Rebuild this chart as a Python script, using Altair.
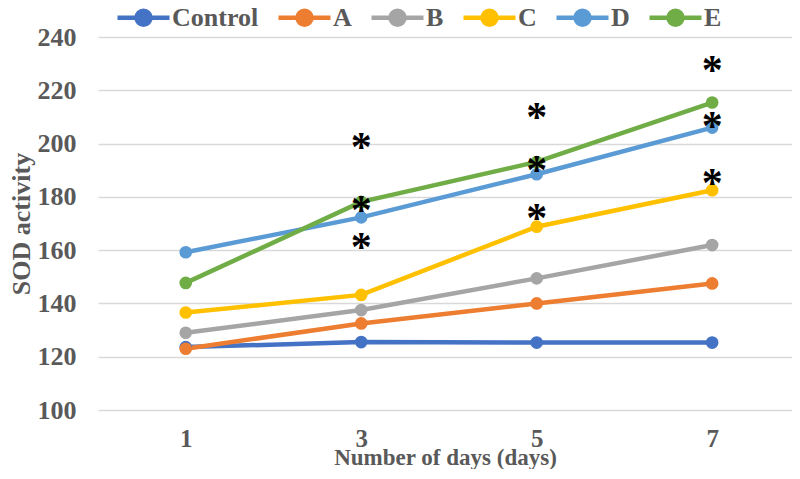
import altair as alt
import pandas as pd

days = [1, 3, 5, 7]
series = ["Control", "A", "B", "C", "D", "E"]
colors = ["#4472C4", "#ED7D31", "#A5A5A5", "#FFC000", "#5B9BD5", "#70AD47"]
control = [123.6, 125.5, 125.3, 125.3]
a_vals = [123.0, 132.5, 140.0, 147.5]
b_vals = [129.0, 137.5, 149.4, 161.9]
c_vals = [136.6, 143.2, 168.8, 182.5]
d_vals = [159.2, 172.3, 188.5, 206.0]
e_vals = [147.7, 178.1, 193.1, 215.4]

star_days = [3, 3, 3, 5, 5, 5, 7, 7, 7]
star_vals = [200.6, 176.9, 163.1, 211.9, 191.9, 173.8, 229.4, 208.5, 186.9]

rows = []
for name, vals in zip(series, [control, a_vals, b_vals, c_vals, d_vals, e_vals]):
    for d, v in zip(days, vals):
        rows.append({"day": d, "series": name, "value": v})
df = pd.DataFrame(rows)
stars = pd.DataFrame({"day": star_days, "value": star_vals})

FONT = "Liberation Serif"
GREY = "#595959"

xscale = alt.Scale(domain=[0, 7.91], nice=False, zero=False)
x = alt.X("day:Q", scale=xscale,
          axis=alt.Axis(title="Number of days (days)", values=days, format="d", labelAngle=0,
                        ticks=False, domain=False, grid=False, labelPadding=16, labelFontSize=25,
                        titleFontSize=23, titlePadding=-5))
y = alt.Y("value:Q", scale=alt.Scale(domain=[100, 240], nice=False),
          axis=alt.Axis(title="SOD activity", values=list(range(100, 241, 20)), ticks=False,
                        domain=False, gridColor="#D9D9D9", gridWidth=1.5, labelPadding=22,
                        titlePadding=3))

legend_path = "M-1,0H1M-0.27,0A0.27,0.27 0 1,0 0.27,0A0.27,0.27 0 1,0 -0.27,0Z"

lines = alt.Chart(df).mark_line(strokeWidth=4.5, point=alt.OverlayMarkDef(filled=True, size=160, opacity=1)).encode(
    x=x, y=y,
    color=alt.Color("series:N", sort=series, scale=alt.Scale(domain=series, range=colors),
                    legend=alt.Legend(title=None, orient="none", direction="horizontal",
                                      legendX=17, legendY=-48, symbolType=legend_path,
                                      symbolSize=2704, symbolStrokeWidth=4.5, labelOffset=0,
                                      columnPadding=10, padding=0,
                                      labelFont=FONT, labelFontSize=26, labelFontWeight="bold",
                                      labelColor=GREY, symbolOpacity=1)),
    order=alt.Order("day:Q"),
)

star_text = alt.Chart(stars).mark_text(text="*", font=FONT, fontSize=42, fontWeight="bold",
                                       color="black", baseline="alphabetic", dy=19).encode(
    x=alt.X("day:Q", scale=xscale), y="value:Q")

chart = alt.layer(lines, star_text).properties(
    width=694, height=373,
    autosize=alt.AutoSizeParams(type="none"),
    padding={"left": 90, "top": 29, "right": 0, "bottom": 59},
).configure_view(stroke=None).configure_axis(
    labelFont=FONT, labelFontSize=26, labelFontWeight="bold", labelColor=GREY,
    titleFont=FONT, titleFontSize=26, titleFontWeight="bold", titleColor=GREY,
)

chart.save("out.html", embed_options={"renderer": "svg", "actions": False})
